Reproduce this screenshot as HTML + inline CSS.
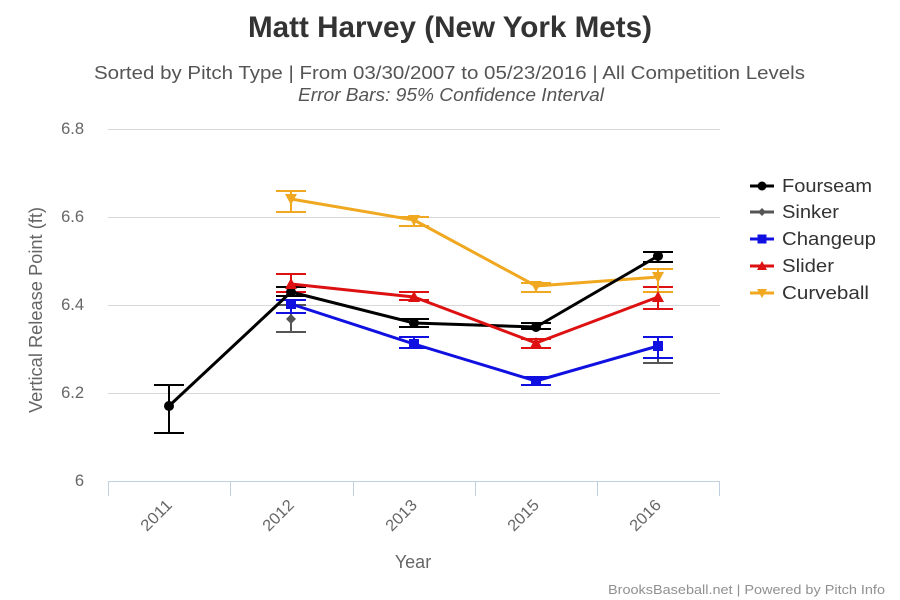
<!DOCTYPE html>
<html>
<head>
<meta charset="utf-8">
<style>
  html,body{margin:0;padding:0;background:#fff;}
  svg{display:block;}
  text{font-family:"Liberation Sans", "DejaVu Sans", sans-serif;}
</style>
</head>
<body>
<svg width="900" height="600" viewBox="0 0 900 600" xmlns="http://www.w3.org/2000/svg">
  <rect x="0" y="0" width="900" height="600" fill="#fff"/>

  <!-- Title -->
  <text x="450" y="37" text-anchor="middle" font-size="30" font-weight="bold" fill="#333" textLength="404" lengthAdjust="spacingAndGlyphs">Matt Harvey (New York Mets)</text>
  <text x="94" y="79" font-size="18.5" fill="#555" textLength="711" lengthAdjust="spacingAndGlyphs">Sorted by Pitch Type | From 03/30/2007 to 05/23/2016 | All Competition Levels</text>
  <text x="298" y="101" font-size="18.5" font-style="italic" fill="#555" textLength="306" lengthAdjust="spacingAndGlyphs">Error Bars: 95% Confidence Interval</text>

  <!-- Gridlines -->
  <g stroke="#d8d8d8" stroke-width="1">
    <line x1="108" y1="129.5" x2="720" y2="129.5"/>
    <line x1="108" y1="217.5" x2="720" y2="217.5"/>
    <line x1="108" y1="305.5" x2="720" y2="305.5"/>
    <line x1="108" y1="393.5" x2="720" y2="393.5"/>
  </g>

  <!-- X axis -->
  <g stroke="#c0d0e0" stroke-width="1">
    <line x1="108" y1="481.5" x2="720" y2="481.5"/>
    <line x1="108.5" y1="481" x2="108.5" y2="496"/>
    <line x1="230.5" y1="481" x2="230.5" y2="496"/>
    <line x1="353.5" y1="481" x2="353.5" y2="496"/>
    <line x1="475.5" y1="481" x2="475.5" y2="496"/>
    <line x1="597.5" y1="481" x2="597.5" y2="496"/>
    <line x1="719.5" y1="481" x2="719.5" y2="496"/>
  </g>

  <!-- Y labels -->
  <g font-size="16.5" fill="#666" text-anchor="end">
    <text x="84" y="134">6.8</text>
    <text x="84" y="222">6.6</text>
    <text x="84" y="310">6.4</text>
    <text x="84" y="398">6.2</text>
    <text x="84" y="486">6</text>
  </g>
  <text transform="translate(42,310) rotate(-90)" text-anchor="middle" font-size="18" fill="#666" textLength="206" lengthAdjust="spacingAndGlyphs">Vertical Release Point (ft)</text>

  <!-- X labels -->
  <g font-size="16" fill="#666" text-anchor="end">
    <text transform="translate(173,506) rotate(-45)" textLength="37" lengthAdjust="spacingAndGlyphs">2011</text>
    <text transform="translate(295,506) rotate(-45)" textLength="37" lengthAdjust="spacingAndGlyphs">2012</text>
    <text transform="translate(418,506) rotate(-45)" textLength="37" lengthAdjust="spacingAndGlyphs">2013</text>
    <text transform="translate(540,506) rotate(-45)" textLength="37" lengthAdjust="spacingAndGlyphs">2015</text>
    <text transform="translate(662,506) rotate(-45)" textLength="37" lengthAdjust="spacingAndGlyphs">2016</text>
  </g>
  <text x="413" y="568" text-anchor="middle" font-size="18" fill="#666">Year</text>

  <!-- Credits -->
  <text x="608" y="594" font-size="13" fill="#909090" textLength="277" lengthAdjust="spacingAndGlyphs">BrooksBaseball.net | Powered by Pitch Info</text>

  <!-- Error bars -->
  <g stroke-width="2" fill="none">
    <g stroke="#000">
      <path d="M169 385V433M154 385H184M154 433H184"/>
      <path d="M291 287V296M276 287H306M276 296H306"/>
      <path d="M414 319V327M399 319H429M399 327H429"/>
      <path d="M536 323V329M521 323H551M521 329H551"/>
      <path d="M658 252V262M643 252H673M643 262H673"/>
    </g>
    <g stroke="#555">
      <path d="M291 305V332M276 305H306M276 332H306"/>
      <path d="M658 358V363M643 363H673"/>
    </g>
    <g stroke="#1010e0">
      <path d="M291 300V313M276 300H306M276 313H306"/>
      <path d="M414 337V348M399 337H429M399 348H429"/>
      <path d="M536 377V385M521 377H551M521 385H551"/>
      <path d="M658 337V358M643 337H673M643 358H673"/>
    </g>
    <g stroke="#dd1111">
      <path d="M291 274V292M276 274H306M276 292H306"/>
      <path d="M414 292V300M399 292H429M399 300H429"/>
      <path d="M536 339V348M521 339H551M521 348H551"/>
      <path d="M658 287V309M643 287H673M643 309H673"/>
    </g>
    <g stroke="#f0a820">
      <path d="M291 191V212M276 191H306M276 212H306"/>
      <path d="M414 217V226M399 217H429M399 226H429"/>
      <path d="M536 283V292M521 283H551M521 292H551"/>
      <path d="M658 269V292M643 269H673M643 292H673"/>
    </g>
  </g>

  <!-- Series lines -->
  <g fill="none" stroke-width="3" stroke-linejoin="round" stroke-linecap="round">
    <polyline stroke="#f0a820" points="291,199 414,220 536,286 658,277"/>
    <polyline stroke="#1010e0" points="291,304 414,344 536,381 658,346"/>
    <polyline stroke="#000" points="169,406 291,292 414,323 536,327 658,256"/>
    <polyline stroke="#dd1111" points="291,284 414,297 536,343 658,297"/>
  </g>

  <!-- Markers -->
  <g fill="#000">
    <circle cx="169" cy="406" r="5"/>
    <circle cx="291" cy="292" r="5"/>
    <circle cx="414" cy="323" r="5"/>
    <circle cx="536" cy="327" r="5"/>
    <circle cx="658" cy="256" r="5"/>
  </g>
  <path d="M291 314 L296 319 L291 324 L286 319 Z" fill="#555"/>
  <g fill="#1010e0">
    <rect x="286" y="299" width="10" height="10"/>
    <rect x="409" y="339" width="10" height="10"/>
    <rect x="531" y="376" width="10" height="10"/>
    <rect x="653" y="341" width="10" height="10"/>
  </g>
  <g fill="#dd1111">
    <path d="M291 278 L297 289 L285 289 Z"/>
    <path d="M414 291 L420 302 L408 302 Z"/>
    <path d="M536 337 L542 348 L530 348 Z"/>
    <path d="M658 291 L664 302 L652 302 Z"/>
  </g>
  <g fill="#f0a820">
    <path d="M285 194 L297 194 L291 205 Z"/>
    <path d="M408 215 L420 215 L414 226 Z"/>
    <path d="M530 281 L542 281 L536 292 Z"/>
    <path d="M652 272 L664 272 L658 283 Z"/>
  </g>

  <!-- Legend -->
  <g stroke-width="3">
    <line x1="750" y1="186" x2="774" y2="186" stroke="#000"/>
    <line x1="750" y1="212" x2="774" y2="212" stroke="#555"/>
    <line x1="750" y1="239" x2="774" y2="239" stroke="#1010e0"/>
    <line x1="750" y1="266" x2="774" y2="266" stroke="#dd1111"/>
    <line x1="750" y1="293" x2="774" y2="293" stroke="#f0a820"/>
  </g>
  <circle cx="762" cy="186" r="4.5" fill="#000"/>
  <path d="M762 208 L766 212 L762 216 L758 212 Z" fill="#555"/>
  <rect x="757.5" y="234.5" width="9" height="9" fill="#1010e0"/>
  <path d="M762 261 L767 270 L757 270 Z" fill="#dd1111"/>
  <path d="M757 289 L767 289 L762 298 Z" fill="#f0a820"/>
  <g font-size="18" fill="#333">
    <text x="782" y="192" textLength="90" lengthAdjust="spacingAndGlyphs">Fourseam</text>
    <text x="782" y="218" textLength="57" lengthAdjust="spacingAndGlyphs">Sinker</text>
    <text x="782" y="245" textLength="94" lengthAdjust="spacingAndGlyphs">Changeup</text>
    <text x="782" y="272" textLength="52" lengthAdjust="spacingAndGlyphs">Slider</text>
    <text x="782" y="299" textLength="87" lengthAdjust="spacingAndGlyphs">Curveball</text>
  </g>
</svg>
</body>
</html>
